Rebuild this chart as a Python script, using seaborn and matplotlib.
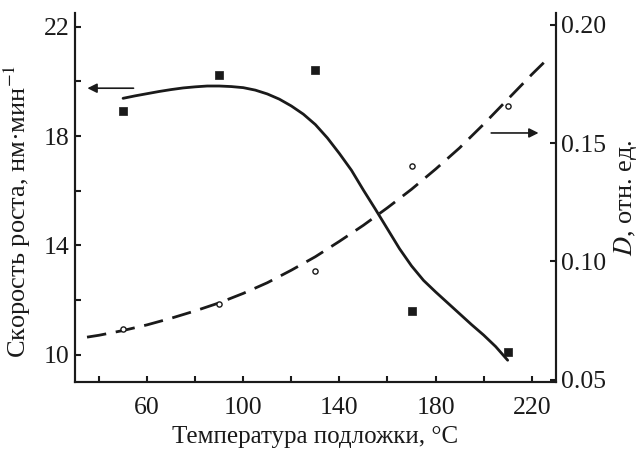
import matplotlib
matplotlib.use("Agg")
import matplotlib.pyplot as plt
import seaborn as sns

# measured points
temp_pts = [50, 90, 130, 170, 210]
rate_pts = [18.9, 20.25, 20.4, 11.6, 10.1]
d_pts = [0.0716, 0.0822, 0.0958, 0.1405, 0.1657]

# fitted curves
rate_fit_t = [50, 55, 60, 65, 70, 75, 80, 85, 90, 95, 100, 105, 110, 115, 120, 125, 130,
              135, 140, 145, 150, 155, 160, 165, 170, 175, 180, 185, 190, 195, 200, 205, 210]
rate_fit = [19.38, 19.47, 19.55, 19.63, 19.70, 19.76, 19.80, 19.83, 19.83, 19.81, 19.77,
            19.68, 19.54, 19.35, 19.10, 18.80, 18.42, 17.93, 17.36, 16.75, 16.02, 15.32,
            14.60, 13.88, 13.25, 12.72, 12.30, 11.90, 11.50, 11.10, 10.72, 10.30, 9.80]
d_fit_t = [35, 40, 50, 60, 70, 80, 90, 100, 110, 120, 130, 140, 150, 160, 170, 180, 190, 200,
           210, 220, 225]
d_fit = [0.068, 0.0688, 0.0708, 0.0732, 0.076, 0.0791, 0.0825, 0.0865, 0.091, 0.0963, 0.102,
         0.1085, 0.1153, 0.1227, 0.1305, 0.139, 0.148, 0.158, 0.1685, 0.179, 0.184]

x_ticks = [40, 60, 80, 100, 120, 140, 160, 180, 200, 220]
x_labels = ["", "60", "", "100", "", "140", "", "180", "", "220"]
left_ticks = [10, 12, 14, 16, 18, 20, 22]
left_labels = ["10", "", "14", "", "18", "", "22"]
right_ticks = [0.05, 0.10, 0.15, 0.20]
right_labels = ["0.05", "0.10", "0.15", "0.20"]

ink = "#1a1a1a"

sns.set_theme(style="ticks")
plt.rcParams["font.family"] = ["Liberation Serif", "DejaVu Serif"]
plt.rcParams["mathtext.fontset"] = "stix"
plt.rcParams["axes.linewidth"] = 1.5

fig = plt.figure(figsize=(6.41, 4.49), dpi=100)
ax = fig.add_axes([0.117, 0.149, 0.750, 0.822])
ax2 = ax.twinx()

sns.lineplot(x=rate_fit_t, y=rate_fit, ax=ax, color=ink, linewidth=2, sort=False)
sns.scatterplot(x=temp_pts, y=rate_pts, ax=ax, marker="s", s=28, color=ink,
                edgecolor=ink, linewidth=0.5, zorder=3)

sns.lineplot(x=d_fit_t, y=d_fit, ax=ax2, color=ink, linewidth=2, sort=False)
ax2.lines[-1].set_dashes((7, 3.5))
sns.scatterplot(x=temp_pts, y=d_pts, ax=ax2, marker="o", s=14, facecolor="white",
                edgecolor=ink, linewidth=1.0, zorder=3)

ax.set_xlim(30, 230)
ax.set_ylim(9.0, 22.5)
ax2.set_ylim(0.049, 0.205)

ax.set_xticks(x_ticks)
ax.set_xticklabels(x_labels)
ax.set_yticks(left_ticks)
ax.set_yticklabels(left_labels)
ax2.set_yticks(right_ticks)
ax2.set_yticklabels(right_labels)

for a in (ax, ax2):
    a.tick_params(direction="in", length=4, width=1.5, labelsize=18.5, colors=ink, pad=4)
ax.tick_params(axis="x", pad=11)
ax.spines["top"].set_visible(False)
ax2.spines["top"].set_visible(False)
for s in ("left", "right", "bottom"):
    ax2.spines[s].set_linewidth(1.5)
    ax2.spines[s].set_color(ink)

ax.set_xlabel("Температура подложки, °C", fontsize=18, color=ink, labelpad=5)
ax.set_ylabel("Скорость роста, нм·мин$^{-1}$", fontsize=19, color=ink)
ax.yaxis.set_label_coords(-0.087, 0.463)
ax2.set_ylabel("$D$, отн. ед.", fontsize=19, color=ink, labelpad=4)

# arrows pointing to the axes
ax.annotate("", xy=(34, 19.75), xytext=(55.5, 19.75),
            arrowprops=dict(arrowstyle="-|>", color=ink, lw=1.2, mutation_scale=14))
ax2.annotate("", xy=(224, 0.1543), xytext=(202, 0.1543),
             arrowprops=dict(arrowstyle="-|>", color=ink, lw=1.2, mutation_scale=14))

fig.savefig("out.png", dpi=100)
